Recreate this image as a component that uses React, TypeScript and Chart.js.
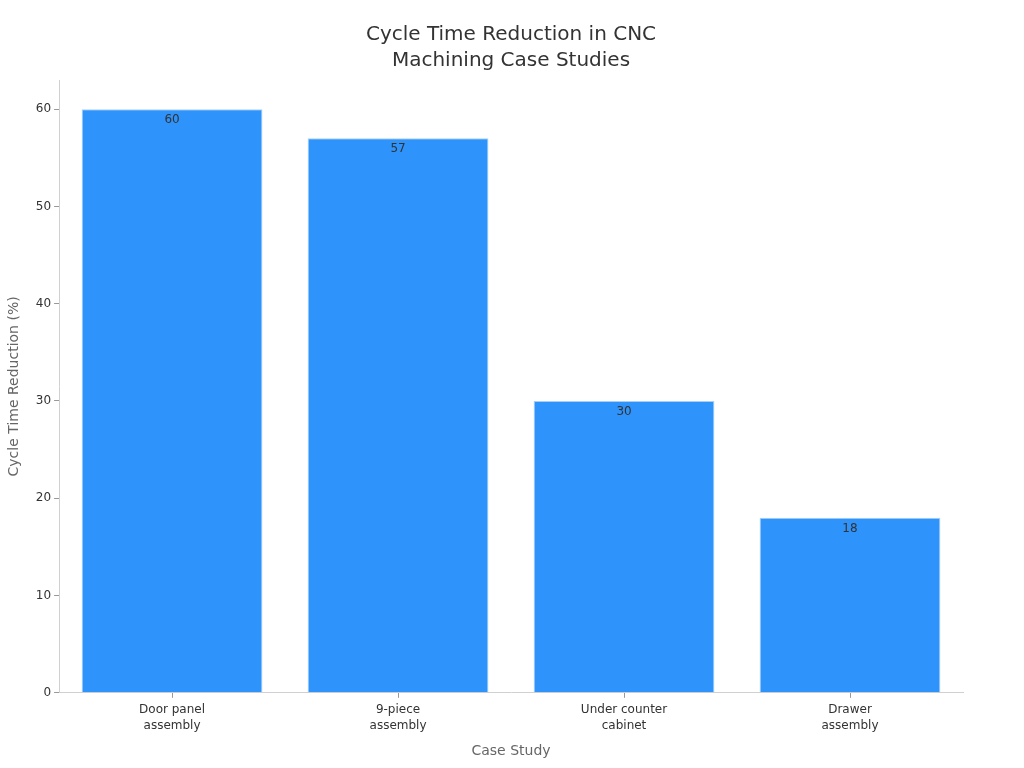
import React, { useEffect, useRef } from 'react';
import { Chart, registerables } from 'chart.js';

Chart.register(...registerables);

const categories = [['Door panel', 'assembly'], ['9-piece', 'assembly'], ['Under counter', 'cabinet'], ['Drawer', 'assembly']];
const reductions = [60, 57, 30, 18];
const yTicks = [0, 10, 20, 30, 40, 50, 60];

const FONT = "'DejaVu Sans', sans-serif";

// draws the value just inside the top of each bar
const valueLabels = {
    id: 'valueLabels',
    afterDatasetsDraw(chart: any) {
        const ctx = chart.ctx;
        const meta = chart.getDatasetMeta(0);
        ctx.save();
        ctx.font = `12px ${FONT}`;
        ctx.fillStyle = '#333333';
        ctx.textAlign = 'center';
        ctx.textBaseline = 'top';
        meta.data.forEach((bar: any, i: number) => {
            ctx.fillText(String(reductions[i]), bar.x, bar.y + 5);
        });
        ctx.restore();
    },
};

const App: React.FC = () => {
    const chartRef = useRef<HTMLCanvasElement>(null);

    useEffect(() => {
        document.body.style.margin = '0';
        const ctx = chartRef.current?.getContext('2d');
        if (!ctx) return;
        const chart = new Chart(ctx, {
            type: 'bar',
            data: {
                labels: categories,
                datasets: [
                    {
                        label: 'Cycle Time Reduction (%)',
                        data: reductions,
                        backgroundColor: '#2E93FA',
                        borderColor: '#A9CFF5',
                        borderWidth: 1,
                        barPercentage: 0.8,
                        categoryPercentage: 1,
                    },
                ],
            },
            options: {
                animation: false,
                responsive: false,
                layout: { padding: { left: 2, right: 4, top: 8, bottom: 4 } },
                plugins: {
                    legend: { display: false },
                    tooltip: { enabled: false },
                    title: {
                        display: true,
                        text: ['Cycle Time Reduction in CNC', 'Machining Case Studies'],
                        color: '#333333',
                        font: { family: FONT, size: 20, weight: 'normal', lineHeight: 1.3 },
                        padding: { top: 14, bottom: 6 },
                    },
                },
                scales: {
                    x: {
                        grid: { display: true, drawOnChartArea: false, tickLength: 5, color: '#999999', offset: false },
                        border: { color: '#D0D0D0' },
                        ticks: { color: '#333333', font: { family: FONT, size: 12, lineHeight: 1.35 }, maxRotation: 0, padding: 4 },
                        title: {
                            display: true,
                            text: 'Case Study',
                            color: '#666666',
                            font: { family: FONT, size: 14 },
                            padding: { top: 5 },
                        },
                    },
                    y: {
                        min: 0,
                        max: 63,
                        afterBuildTicks: (axis: any) => {
                            axis.ticks = yTicks.map((v) => ({ value: v }));
                        },
                        grid: { display: true, drawOnChartArea: false, tickLength: 5, color: '#999999' },
                        border: { color: '#D0D0D0' },
                        ticks: { color: '#333333', font: { family: FONT, size: 12 } },
                        title: {
                            display: true,
                            text: 'Cycle Time Reduction (%)',
                            color: '#666666',
                            font: { family: FONT, size: 14 },
                            padding: { bottom: 10 },
                        },
                    },
                    // empty right axis, only reserves space so the title stays centred
                    spacer: {
                        type: 'linear',
                        position: 'right',
                        display: true,
                        grid: { display: false },
                        border: { display: false },
                        ticks: { display: false },
                        afterFit: (axis: any) => {
                            axis.width = 57;
                        },
                    },
                },
            },
            plugins: [valueLabels],
        });
        return () => chart.destroy();
    }, []);

    return <canvas ref={chartRef} width={1024} height={768} style={{ display: 'block' }}></canvas>;
};

export default App;
